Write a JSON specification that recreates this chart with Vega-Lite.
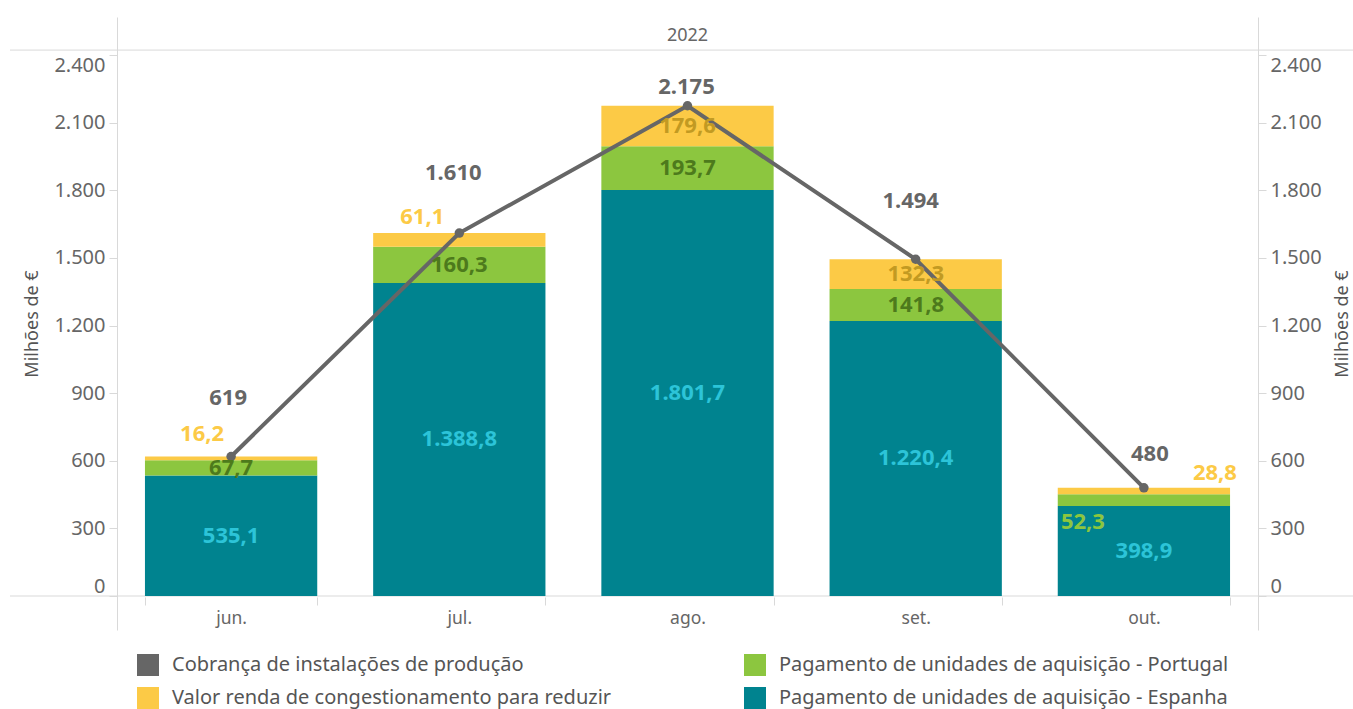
{
  "$schema": "https://vega.github.io/schema/vega-lite/v6.json",
  "width": 1343,
  "height": 613,
  "autosize": {"type": "none"},
  "padding": {"left": 10, "top": 17, "right": 0, "bottom": 79},
  "title": {"text": "2022", "orient": "top", "anchor": "middle", "frame": "group", "offset": -18, "baseline": "middle", "dx": 6, "dy": 19, "fontSize": 18, "fontWeight": "normal", "color": "#666666", "font": "Noto Sans"},
  "datasets": {
    "dados": [
      {"mes": "jun.", "serie": "Pagamento de unidades de aquisição - Espanha", "valor": 535.1},
      {"mes": "jun.", "serie": "Pagamento de unidades de aquisição - Portugal", "valor": 67.7},
      {"mes": "jun.", "serie": "Valor renda de congestionamento para reduzir", "valor": 16.2},
      {"mes": "jun.", "serie": "Cobrança de instalações de produção", "valor": 619},
      {"mes": "jul.", "serie": "Pagamento de unidades de aquisição - Espanha", "valor": 1388.8},
      {"mes": "jul.", "serie": "Pagamento de unidades de aquisição - Portugal", "valor": 160.3},
      {"mes": "jul.", "serie": "Valor renda de congestionamento para reduzir", "valor": 61.1},
      {"mes": "jul.", "serie": "Cobrança de instalações de produção", "valor": 1610},
      {"mes": "ago.", "serie": "Pagamento de unidades de aquisição - Espanha", "valor": 1801.7},
      {"mes": "ago.", "serie": "Pagamento de unidades de aquisição - Portugal", "valor": 193.7},
      {"mes": "ago.", "serie": "Valor renda de congestionamento para reduzir", "valor": 179.6},
      {"mes": "ago.", "serie": "Cobrança de instalações de produção", "valor": 2175},
      {"mes": "set.", "serie": "Pagamento de unidades de aquisição - Espanha", "valor": 1220.4},
      {"mes": "set.", "serie": "Pagamento de unidades de aquisição - Portugal", "valor": 141.8},
      {"mes": "set.", "serie": "Valor renda de congestionamento para reduzir", "valor": 132.3},
      {"mes": "set.", "serie": "Cobrança de instalações de produção", "valor": 1494},
      {"mes": "out.", "serie": "Pagamento de unidades de aquisição - Espanha", "valor": 398.9},
      {"mes": "out.", "serie": "Pagamento de unidades de aquisição - Portugal", "valor": 52.3},
      {"mes": "out.", "serie": "Valor renda de congestionamento para reduzir", "valor": 28.8},
      {"mes": "out.", "serie": "Cobrança de instalações de produção", "valor": 480}
    ]
  },
  "data": {"name": "dados"},
  "layer": [
    {
      "data": {"values": [{}]},
      "mark": {"type": "rule", "color": "#d9d9d9", "strokeWidth": 1},
      "encoding": {"y": {"datum": 0, "type": "quantitative", "scale": {"domain": [-150.8, 2568.8], "nice": false, "zero": false}, "axis": null}}
    },
    {
      "data": {"values": [{}]},
      "mark": {"type": "rule", "color": "#d9d9d9", "strokeWidth": 1},
      "encoding": {"y": {"datum": 2422, "type": "quantitative", "scale": {"domain": [-150.8, 2568.8], "nice": false, "zero": false}, "axis": null}}
    },
    {
      "transform": [{"filter": "indexof(datum.serie, 'Cobran') < 0"}],
      "mark": {"type": "bar"},
      "encoding": {
        "x": {"field": "mes", "type": "nominal", "sort": ["jun.", "jul.", "ago.", "set.", "out."], "scale": {"range": [107, 1248], "paddingInner": 0.245, "paddingOuter": 0.1225}, "axis": {"title": null, "orient": "bottom", "offset": -33, "tickBand": "extent", "tickSize": 8, "tickColor": "#d9d9d9", "domain": false, "labelPadding": 4, "labelFontSize": 17.5, "labelColor": "#666666", "labelAngle": 0}},
        "y": {"field": "valor", "type": "quantitative", "stack": "zero", "scale": {"domain": [-150.8, 2568.8], "nice": false, "zero": false},
          "axis": {"orient": "left", "offset": -107, "title": "Milhões de €", "values": [0, 300, 600, 900, 1200, 1500, 1800, 2100, 2400], "format": ",.0f",
            "labelBaseline": {"condition": [{"test": "datum.value == 0", "value": "bottom"}, {"test": "datum.value == 2400", "value": "top"}], "value": "middle"},
            "tickSize": 8, "labelPadding": 4, "titleX": -85, "titleAngle": 270, "titleBaseline": "middle", "grid": false, "labelOverlap": false}},
        "color": {"field": "serie", "type": "nominal",
          "scale": {"domain": ["Cobrança de instalações de produção", "Valor renda de congestionamento para reduzir", "Pagamento de unidades de aquisição - Portugal", "Pagamento de unidades de aquisição - Espanha"], "range": ["#666666", "#FCCA46", "#8CC63F", "#00838F"]},
          "legend": {"title": null, "orient": "none", "legendX": 127, "legendY": 637, "columns": 2, "columnPadding": 132, "rowPadding": 11, "symbolType": "square", "symbolSize": 484, "symbolStrokeWidth": 0, "symbolOpacity": 1, "labelFontSize": 20, "labelColor": "#555555", "labelOffset": 13, "labelLimit": 600}},
        "order": {"field": "serie", "sort": "ascending"}
      }
    },
    {
      "transform": [{"filter": "indexof(datum.serie, 'Cobran') == 0"}],
      "mark": {"type": "line", "color": "#666666", "strokeWidth": 4, "point": {"filled": true, "size": 90, "color": "#666666"}},
      "encoding": {
        "x": {"field": "mes", "type": "nominal", "sort": ["jun.", "jul.", "ago.", "set.", "out."], "scale": {"range": [107, 1248], "paddingInner": 0.245, "paddingOuter": 0.1225}, "axis": {"title": null, "orient": "bottom", "offset": -33, "tickBand": "extent", "tickSize": 8, "tickColor": "#d9d9d9", "domain": false, "labelPadding": 4, "labelFontSize": 17.5, "labelColor": "#666666", "labelAngle": 0}},
        "y": {"field": "valor", "type": "quantitative", "scale": {"domain": [-150.8, 2568.8], "nice": false, "zero": false},
          "axis": {"orient": "right", "offset": -95, "title": "Milhões de €", "values": [0, 300, 600, 900, 1200, 1500, 1800, 2100, 2400], "format": ",.0f",
            "labelBaseline": {"condition": [{"test": "datum.value == 0", "value": "bottom"}, {"test": "datum.value == 2400", "value": "top"}], "value": "middle"},
            "tickSize": 8, "labelPadding": 4, "titleX": 84, "titleAngle": 270, "titleBaseline": "middle", "grid": false, "labelOverlap": false}}
      }
    },
    {
      "transform": [
        {"filter": "indexof(datum.serie, 'Cobran') < 0"},
        {"stack": "valor", "groupby": ["mes"], "sort": [{"field": "serie", "order": "ascending"}], "as": ["v0", "v1"]},
        {"fold": ["v0", "v1"], "as": ["k", "pos"]},
        {"aggregate": [{"op": "mean", "field": "pos", "as": "meio"}], "groupby": ["mes", "serie", "valor"]},
        {"filter": "datum.valor >= 65"}
      ],
      "mark": {"type": "text", "fontSize": 22, "fontWeight": "bold", "baseline": "middle", "align": "center"},
      "encoding": {
        "x": {"field": "mes", "type": "nominal", "sort": ["jun.", "jul.", "ago.", "set.", "out."], "scale": {"range": [107, 1248], "paddingInner": 0.245, "paddingOuter": 0.1225}, "axis": {"title": null, "orient": "bottom", "offset": -33, "tickBand": "extent", "tickSize": 8, "tickColor": "#d9d9d9", "domain": false, "labelPadding": 4, "labelFontSize": 17.5, "labelColor": "#666666", "labelAngle": 0}},
        "y": {"field": "meio", "type": "quantitative", "scale": {"domain": [-150.8, 2568.8], "nice": false, "zero": false}, "axis": null},
        "text": {"field": "valor", "type": "quantitative", "format": ",.1f"},
        "color": {"condition": [{"test": "indexof(datum.serie, 'Espanha') >= 0", "value": "#2CC4D8"}, {"test": "indexof(datum.serie, 'Portugal') >= 0", "value": "#4D7A1C"}], "value": "#C29A22"}
      }
    },
    {
      "transform": [
        {"filter": "indexof(datum.serie, 'Cobran') < 0"},
        {"stack": "valor", "groupby": ["mes"], "sort": [{"field": "serie", "order": "ascending"}], "as": ["v0", "v1"]},
        {"fold": ["v0", "v1"], "as": ["k", "pos"]},
        {"aggregate": [{"op": "mean", "field": "pos", "as": "meio"}], "groupby": ["mes", "serie", "valor"]},
        {"filter": "datum.valor < 65"}
      ],
      "mark": {"type": "text", "fontSize": 22, "fontWeight": "bold", "baseline": "middle", "align": "center",
        "dx": {"expr": "datum.mes == 'jun.' ? -29 : datum.mes == 'jul.' ? -37 : indexof(datum.serie, 'Valor') == 0 ? 71 : -61"},
        "dy": {"expr": "datum.mes == 'jun.' ? -24 : datum.mes == 'jul.' ? -23 : indexof(datum.serie, 'Valor') == 0 ? -18 : 22"}},
      "encoding": {
        "x": {"field": "mes", "type": "nominal", "sort": ["jun.", "jul.", "ago.", "set.", "out."], "scale": {"range": [107, 1248], "paddingInner": 0.245, "paddingOuter": 0.1225}, "axis": {"title": null, "orient": "bottom", "offset": -33, "tickBand": "extent", "tickSize": 8, "tickColor": "#d9d9d9", "domain": false, "labelPadding": 4, "labelFontSize": 17.5, "labelColor": "#666666", "labelAngle": 0}},
        "y": {"field": "meio", "type": "quantitative", "scale": {"domain": [-150.8, 2568.8], "nice": false, "zero": false}, "axis": null},
        "text": {"field": "valor", "type": "quantitative", "format": ",.1f"},
        "color": {"condition": {"test": "indexof(datum.serie, 'Valor') == 0", "value": "#FCCA46"}, "value": "#8CC63F"}
      }
    },
    {
      "transform": [{"filter": "indexof(datum.serie, 'Cobran') == 0"}],
      "mark": {"type": "text", "fontSize": 22, "fontWeight": "bold", "baseline": "middle", "align": "center", "color": "#666666",
        "dx": {"expr": "datum.mes == 'jun.' ? -3 : datum.mes == 'jul.' ? -6 : datum.mes == 'ago.' ? -1 : datum.mes == 'set.' ? -5 : 6"},
        "dy": {"expr": "datum.mes == 'jun.' ? -58 : datum.mes == 'jul.' ? -60 : datum.mes == 'ago.' ? -19 : datum.mes == 'set.' ? -58 : -34"}},
      "encoding": {
        "x": {"field": "mes", "type": "nominal", "sort": ["jun.", "jul.", "ago.", "set.", "out."], "scale": {"range": [107, 1248], "paddingInner": 0.245, "paddingOuter": 0.1225}, "axis": {"title": null, "orient": "bottom", "offset": -33, "tickBand": "extent", "tickSize": 8, "tickColor": "#d9d9d9", "domain": false, "labelPadding": 4, "labelFontSize": 17.5, "labelColor": "#666666", "labelAngle": 0}},
        "y": {"field": "valor", "type": "quantitative", "scale": {"domain": [-150.8, 2568.8], "nice": false, "zero": false}, "axis": null},
        "text": {"field": "valor", "type": "quantitative", "format": ",.0f"}
      }
    }
  ],
  "resolve": {"axis": {"y": "independent"}},
  "config": {
    "locale": {"number": {"decimal": ",", "thousands": ".", "grouping": [3], "currency": ["", " €"]}},
    "view": {"stroke": null},
    "font": "Noto Sans",
    "axis": {"labelFont": "Noto Sans", "titleFont": "Noto Sans", "labelFontSize": 20, "labelColor": "#666666", "titleFontSize": 18, "titleFontWeight": "normal", "titleColor": "#555555", "domainColor": "#d9d9d9", "tickColor": "#d9d9d9", "domainWidth": 1},
    "legend": {"labelFont": "Noto Sans"},
    "text": {"font": "Noto Sans"}
  }
}
